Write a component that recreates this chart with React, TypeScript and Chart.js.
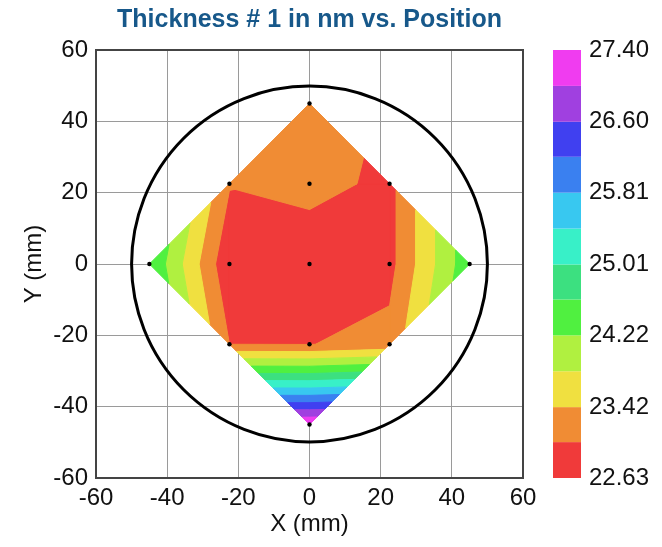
import React, { useEffect, useRef } from "react";
import { Chart, registerables } from "chart.js";
Chart.register(...registerables);

// Measurement sites (mm) and thickness values (nm)
const pointX = [0, -22.5, 0, 22.5, -45, -22.5, 0, 22.5, 45, -22.5, 0, 22.5, 0];
const pointY = [45, 22.5, 22.5, 22.5, 0, 0, 0, 0, 0, -22.5, -22.5, -22.5, -45];
const thickness = [23.3, 23.06, 23.22, 22.9, 24.6, 22.7, 22.63, 22.9, 24.5, 23.03, 23.02, 23.15, 27.4];

// Triangulation of the sites (indices into the arrays above)
const triangles = [
  [0, 1, 2], [0, 2, 3],
  [4, 1, 5], [4, 5, 9],
  [8, 3, 7], [8, 7, 11],
  [12, 9, 10], [12, 10, 11],
  [1, 6, 5], [1, 2, 6],
  [2, 3, 6], [3, 7, 6],
  [5, 6, 10], [5, 10, 9],
  [6, 7, 10], [7, 11, 10],
];

const bandLevels = [22.63, 23.03, 23.42, 23.82, 24.22, 24.62, 25.01, 25.41, 25.81, 26.21, 26.6, 27.0, 27.4];
const bandColors = [
  "#f03a3a", "#f08c34", "#f0e040", "#b0f040", "#50f040", "#3ce080",
  "#38f0c8", "#38c8f0", "#3a80f0", "#4040f0", "#a040e0", "#f03cf0",
];
const colorbarTicks = [22.63, 23.42, 24.22, 25.01, 25.81, 26.6, 27.4];
const axisTicks = [-60, -40, -20, 0, 20, 40, 60];
const waferRadius = 50;

const FONT = "'Liberation Sans', Arial, Helvetica, sans-serif";

type V = { x: number; y: number; v: number };
function clip(poly: V[], level: number, keepAbove: boolean): V[] {
  const out: V[] = [];
  const n = poly.length;
  for (let i = 0; i < n; i++) {
    const a = poly[i];
    const b = poly[(i + 1) % n];
    const ina = keepAbove ? a.v >= level : a.v <= level;
    const inb = keepAbove ? b.v >= level : b.v <= level;
    if (ina) out.push(a);
    if (ina !== inb) {
      const t = (level - a.v) / (b.v - a.v);
      out.push({ x: a.x + t * (b.x - a.x), y: a.y + t * (b.y - a.y), v: level });
    }
  }
  return out;
}

const contourPlugin = {
  id: "contour",
  beforeDatasetsDraw(chart: any) {
    const { ctx, chartArea, scales } = chart;
    const xs = scales.x;
    const ys = scales.y;
    ctx.save();
    ctx.beginPath();
    ctx.rect(chartArea.left, chartArea.top, chartArea.right - chartArea.left, chartArea.bottom - chartArea.top);
    ctx.clip();
    ctx.lineJoin = "round";
    for (let k = 0; k < bandColors.length; k++) {
      ctx.beginPath();
      for (const tri of triangles) {
        const base: V[] = tri.map((i) => ({ x: pointX[i], y: pointY[i], v: thickness[i] }));
        let poly = clip(base, bandLevels[k], true);
        if (poly.length < 3) continue;
        poly = clip(poly, bandLevels[k + 1], false);
        if (poly.length < 3) continue;
        poly.forEach((p, j) => {
          const px = xs.getPixelForValue(p.x);
          const py = ys.getPixelForValue(p.y);
          if (j === 0) ctx.moveTo(px, py);
          else ctx.lineTo(px, py);
        });
        ctx.closePath();
      }
      ctx.fillStyle = bandColors[k];
      ctx.fill();
      ctx.strokeStyle = bandColors[k];
      ctx.lineWidth = 1;
      ctx.stroke();
    }
    // wafer outline
    const cx = xs.getPixelForValue(0);
    const cy = ys.getPixelForValue(0);
    const r = xs.getPixelForValue(waferRadius) - cx;
    ctx.beginPath();
    ctx.arc(cx, cy, r, 0, Math.PI * 2);
    ctx.lineWidth = 3;
    ctx.strokeStyle = "#000";
    ctx.stroke();
    ctx.restore();

    // frame
    ctx.save();
    ctx.strokeStyle = "#444";
    ctx.lineWidth = 2;
    ctx.strokeRect(chartArea.left, chartArea.top, chartArea.right - chartArea.left, chartArea.bottom - chartArea.top);
    ctx.restore();

    // colour bar
    const cb = scales.cb;
    ctx.save();
    const x0 = cb.left + 30;
    const w = 28;
    for (let k = 0; k < bandColors.length; k++) {
      const yTop = cb.getPixelForValue(bandLevels[k + 1]);
      const yBot = cb.getPixelForValue(bandLevels[k]);
      ctx.fillStyle = bandColors[k];
      ctx.fillRect(x0, yTop, w, yBot - yTop);
    }
    ctx.restore();
  },
};

export default function App() {
  const ref = useRef<HTMLCanvasElement | null>(null);
  useEffect(() => {
    if (!ref.current) return;
    const chart = new Chart(ref.current, {
      type: "scatter",
      data: {
        datasets: [
          {
            data: pointX.map((x, i) => ({ x, y: pointY[i] })),
            pointRadius: 2.2,
            pointBackgroundColor: "#000",
            pointBorderWidth: 0,
            showLine: false,
          },
        ],
      },
      options: {
        animation: false,
        responsive: true,
        maintainAspectRatio: false,
        layout: { padding: 0 },
        plugins: {
          legend: { display: false },
          tooltip: { enabled: false },
          title: {
            display: true,
            text: "Thickness # 1 in nm vs. Position",
            color: "#17588a",
            fullSize: false,
            font: { family: FONT, size: 25, weight: "bold", lineHeight: 1 },
            padding: { top: 0, bottom: 17 },
          },
        },
        scales: {
          x: {
            type: "linear",
            min: -60,
            max: 60,
            afterBuildTicks: (s: any) => {
              s.ticks = axisTicks.map((v) => ({ value: v }));
            },
            afterFit: (s: any) => {
              s.height = 61;
              s.paddingLeft = 0;
              s.paddingRight = 0;
            },
            grid: { color: "#9a9a9a", lineWidth: 1, drawTicks: false },
            border: { display: false },
            ticks: { color: "#111", font: { family: FONT, size: 24 }, padding: 6, maxRotation: 0 },
            title: {
              display: true,
              text: "X (mm)",
              color: "#111",
              font: { family: FONT, size: 24, lineHeight: 1.2 },
              padding: { top: 0, bottom: 0 },
            },
          },
          y: {
            type: "linear",
            min: -60,
            max: 60,
            afterBuildTicks: (s: any) => {
              s.ticks = axisTicks.map((v) => ({ value: v }));
            },
            afterFit: (s: any) => {
              s.width = 88;
              s.paddingTop = 0;
              s.paddingBottom = 0;
            },
            grid: { color: "#9a9a9a", lineWidth: 1, drawTicks: false },
            border: { display: false },
            ticks: { color: "#111", font: { family: FONT, size: 24 }, padding: 8 },
            title: {
              display: true,
              text: "Y (mm)",
              color: "#111",
              font: { family: FONT, size: 24, lineHeight: 1.2 },
              padding: { top: 12, bottom: 0 },
            },
          },
          cb: {
            type: "linear",
            position: "right",
            min: 22.63,
            max: 27.4,
            afterBuildTicks: (s: any) => {
              s.ticks = colorbarTicks.map((v) => ({ value: v }));
            },
            afterFit: (s: any) => {
              s.width = 131;
              s.paddingTop = 0;
              s.paddingBottom = 0;
            },
            grid: { display: false, drawTicks: false },
            border: { display: false },
            ticks: {
              color: "#111",
              font: { family: FONT, size: 24 },
              padding: 66,
              callback: (v: any) => Number(v).toFixed(2),
            },
          },
        },
      } as any,
      plugins: [contourPlugin],
    });
    return () => chart.destroy();
  }, []);
  return (
    <div style={{ position: "relative", width: 646, height: 531 }}>
      <canvas ref={ref} />
    </div>
  );
}
